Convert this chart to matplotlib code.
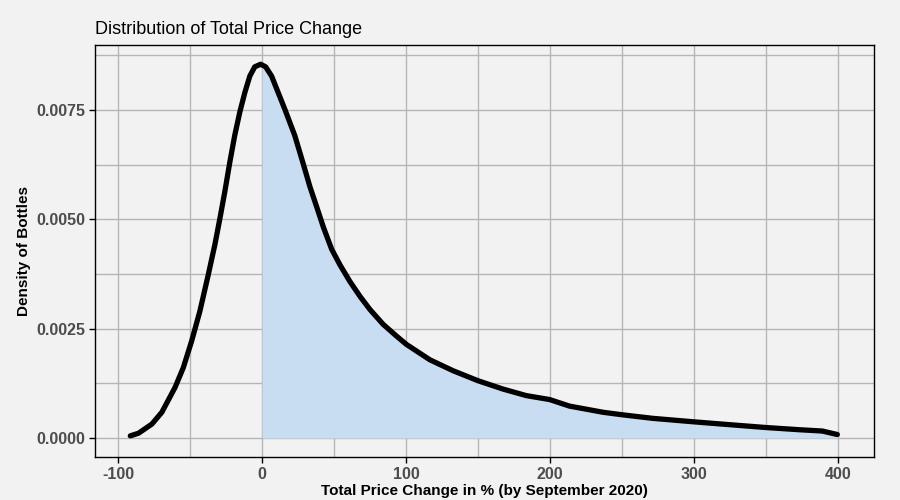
import numpy as np
import matplotlib
matplotlib.use('Agg')
import matplotlib.pyplot as plt
from matplotlib.ticker import MultipleLocator

# density curve (price change %, density)
price_change = [-91.5, -85.8, -76.5, -69.6, -60.4, -54.7, -48.9, -43.2, -37.4, -32.8,
                -29.3, -25.9, -22.4, -19.0, -15.5, -12.0, -8.5, -5.1, -1.0, 2.5,
                6.6, 15.8, 22.7, 28.6, 33.3, 37.9, 42.5, 48.3, 54.1, 61.0,
                68.0, 74.9, 84.1, 93.4, 100.3, 116.5, 132.6, 150.0, 167.3, 183.5,
                199.7, 213.5, 236.6, 250.5, 271.3, 300.0, 315.2, 326.7, 350.0, 373.0,
                389.0, 399.5]
density = [0.00005, 0.00011, 0.00032, 0.00059, 0.00116, 0.00161, 0.00222, 0.00290, 0.00373, 0.00442,
           0.00502, 0.00563, 0.00631, 0.00692, 0.00745, 0.00790, 0.00828, 0.00849, 0.00855, 0.00849,
           0.00828, 0.00752, 0.00692, 0.00627, 0.00574, 0.00529, 0.00483, 0.00432, 0.00396, 0.00358,
           0.00324, 0.00294, 0.00260, 0.00233, 0.00214, 0.00179, 0.00154, 0.00131, 0.00112, 0.00097,
           0.00088, 0.00073, 0.00059, 0.00053, 0.00045, 0.00037, 0.00033, 0.00030, 0.00024, 0.00019,
           0.00016, 0.00008]

x_ticks = [-100, 0, 100, 200, 300, 400]
y_ticks = [0.0, 0.0025, 0.0050, 0.0075]
y_tick_labels = ['0.0000', '0.0025', '0.0050', '0.0075']

plt.rcParams['font.family'] = ['Liberation Sans', 'DejaVu Sans']
plt.rcParams['axes.unicode_minus'] = False
bg = '#f2f2f2'

fig = plt.figure(figsize=(9, 5), dpi=100, facecolor=bg)
ax = fig.add_axes([0.1056, 0.086, 0.8656, 0.824])
ax.set_facecolor(bg)

x = np.array(price_change)
y = np.array(density)

# shade the positive-change area
mask = x > 0
xf = np.concatenate([[0.0], x[mask]])
yf = np.concatenate([[np.interp(0.0, x, y)], y[mask]])
ax.fill_between(xf, 0, yf, color='#c8ddf2', linewidth=0, zorder=2)
ax.plot(x, y, color='black', linewidth=3.8, solid_capstyle='round',
        solid_joinstyle='round', zorder=3)

ax.set_xlim(-116, 425)
ax.set_ylim(-0.000434, 0.00899)
ax.set_xticks(x_ticks)
ax.set_yticks(y_ticks)
ax.set_yticklabels(y_tick_labels)
ax.xaxis.set_minor_locator(MultipleLocator(50))
ax.yaxis.set_minor_locator(MultipleLocator(0.00125))
ax.grid(True, which='both', color='#b5b5b5', linewidth=1.0, zorder=1)
ax.set_axisbelow(True)
ax.tick_params(which='minor', length=0)
ax.tick_params(which='major', length=4, width=1, color='black',
               labelsize=11.5, labelcolor='#4d4d4d', pad=3)
for lab in ax.get_xticklabels() + ax.get_yticklabels():
    lab.set_fontweight('bold')
for s in ax.spines.values():
    s.set_color('black')
    s.set_linewidth(1.0)

ax.set_title('Distribution of Total Price Change', loc='left', fontsize=13,
             color='black', pad=8)
ax.set_xlabel('Total Price Change in % (by September 2020)', fontsize=11,
              fontweight='bold', labelpad=2)
ax.set_ylabel('Density of Bottles', fontsize=11, fontweight='bold', labelpad=4)

fig.savefig('out.png', dpi=100, facecolor=bg)
